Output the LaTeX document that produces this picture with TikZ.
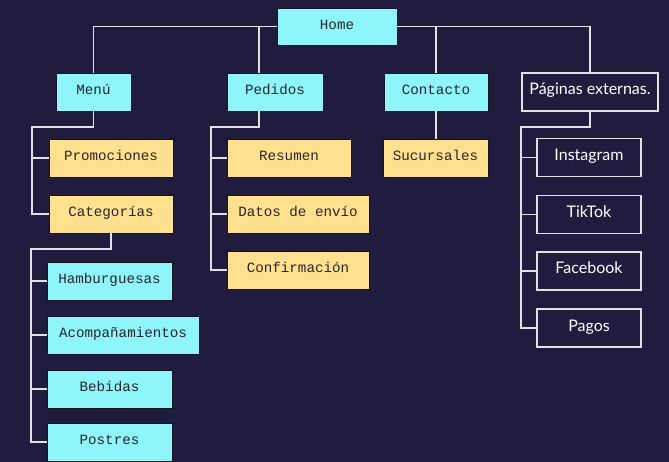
\documentclass[tikz,border=0pt]{standalone}
\usepackage{fontspec}
\newfontfamily\boxmono{Liberation Mono}
\newfontfamily\boxsans{Lato}
\definecolor{bgnavy}{RGB}{32,28,62}
\definecolor{cyanfill}{RGB}{142,245,251}
\definecolor{sandfill}{RGB}{255,224,143}
\definecolor{inkdark}{RGB}{38,38,44}
\definecolor{wirecol}{RGB}{226,226,230}
\begin{document}
\begin{tikzpicture}[x=1pt,y=-1pt,
  basebox/.style={rectangle, inner sep=0pt, minimum height=38pt, align=center},
  cyanbox/.style={basebox, fill=cyanfill, draw=bgnavy!60!black, line width=0.6pt, text=inkdark,
    text height=10pt, text depth=4.5pt,
    font=\boxmono\fontsize{14.2}{16}\selectfont},
  sandbox/.style={basebox, fill=sandfill, draw=bgnavy!60!black, line width=0.6pt, text=inkdark,
    text height=10pt, text depth=4.5pt,
    font=\boxmono\fontsize{14.2}{16}\selectfont},
  darkbox/.style={basebox, fill=bgnavy, draw=wirecol, line width=1.4pt, text=white,
    text height=11pt, text depth=5pt,
    font=\boxsans\fontsize{16}{18}\selectfont},
  wire/.style={draw=wirecol, line width=1.5pt}]

% background
\fill[bgnavy] (0,0) rectangle (669,462);
\useasboundingbox (0,0) rectangle (669,462);

% junction points of the wiring
\coordinate (pedTop) at (259,27);
\coordinate (pedSpine) at (211,127);
\coordinate (menuSpine) at (32,127);
\coordinate (catSpine) at (31,249);
\coordinate (extSpine) at (521,127);

% boxes
\node[cyanbox, minimum width=120pt, minimum height=37pt] (home) at (337,26.5) {Home};

\node[cyanbox, minimum width=75pt] (menu) at (93.5,92) {Menú};
\node[cyanbox, minimum width=96pt] (pedidos) at (275,92) {Pedidos};
\node[cyanbox, minimum width=104pt] (contacto) at (436,92) {Contacto};
\node[darkbox, minimum width=136pt] (paginas) at (590,92) {Páginas externas.};

\node[sandbox, minimum width=124pt] (promo) at (111,158) {Promociones};
\node[sandbox, minimum width=124pt] (categorias) at (111,214) {Categorías};

\node[cyanbox, minimum width=125pt] (hamb) at (109.5,281) {Hamburguesas};
\node[cyanbox, minimum width=152pt] (acomp) at (123,335) {Acompañamientos};
\node[cyanbox, minimum width=125pt] (bebidas) at (109.5,389) {Bebidas};
\node[cyanbox, minimum width=125pt] (postres) at (109.5,442) {Postres};

\node[sandbox, minimum width=124pt] (resumen) at (289,158) {Resumen};
\node[sandbox, minimum width=142pt] (datos) at (298,214) {Datos de envío};
\node[sandbox, minimum width=142pt] (confirm) at (298,270) {Confirmación};

\node[sandbox, minimum width=105pt] (sucursales) at (435.5,158) {Sucursales};

\node[darkbox, minimum width=104pt] (instagram) at (589,157.5) {Instagram};
\node[darkbox, minimum width=104pt] (tiktok) at (589,214.5) {TikTok};
\node[darkbox, minimum width=104pt] (facebook) at (589,271) {Facebook};
\node[darkbox, minimum width=104pt] (pagos) at (589,328) {Pagos};

% top level
\path[wire] (home.west) -| (menu.north);
\path[wire] (pedTop) -- (pedTop |- pedidos.north);
\path[wire] (home.east) -| (paginas.north);
\path[wire] (contacto.north) -- (contacto.north |- home.east);

% Menú branch
\path[wire] (menu.south) |- (menuSpine) |- (categorias.west);
\path[wire] (menuSpine |- promo.west) -- (promo.west);

% Categorías branch
\path[wire] (categorias.south) |- (catSpine) |- (postres.west);
\path[wire] (catSpine |- hamb.west) -- (hamb.west);
\path[wire] (catSpine |- acomp.west) -- (acomp.west);
\path[wire] (catSpine |- bebidas.west) -- (bebidas.west);

% Pedidos branch
\path[wire] (pedidos.south -| pedTop) |- (pedSpine) |- (confirm.west);
\path[wire] (pedSpine |- resumen.west) -- (resumen.west);
\path[wire] (pedSpine |- datos.west) -- (datos.west);

% Contacto branch
\path[wire] (contacto.south) -- (contacto.south |- sucursales.north);

% Páginas externas branch
\path[wire] (paginas.south) |- (extSpine) |- (pagos.west);
\path[wire] (extSpine |- instagram.west) -- (instagram.west);
\path[wire] (extSpine |- tiktok.west) -- (tiktok.west);
\path[wire] (extSpine |- facebook.west) -- (facebook.west);
\end{tikzpicture}
\end{document}
